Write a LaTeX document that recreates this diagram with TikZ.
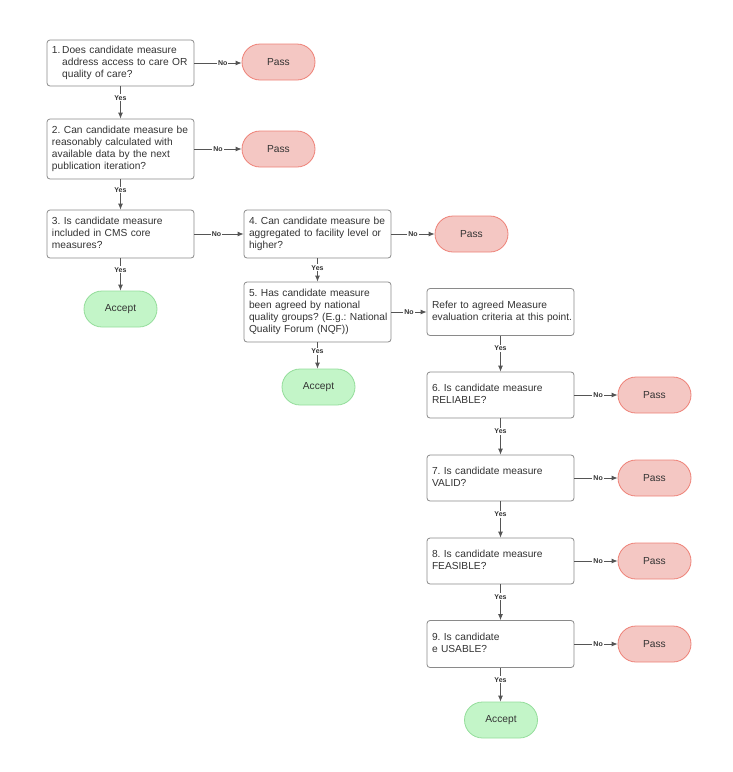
\documentclass[tikz,border=0pt]{standalone}
\usepackage{fontspec}
\setmainfont{Liberation Sans}
\usetikzlibrary{arrows.meta}
\frenchspacing
\definecolor{boxline}{HTML}{8A8A8A}
\definecolor{txt}{HTML}{333333}
\definecolor{passfill}{HTML}{F4C7C3}
\definecolor{passline}{HTML}{EE8177}
\definecolor{accfill}{HTML}{C3F5C8}
\definecolor{accline}{HTML}{94DD9B}
\definecolor{arr}{HTML}{555555}
\newcommand{\ql}[1]{\begin{tabular}{@{}l@{}}#1\end{tabular}}
\begin{document}
\begin{tikzpicture}[x=1pt,y=-1pt,
  qbox/.style={draw=boxline, line width=0.8pt, rounded corners=3pt, fill=white,
    minimum width=147pt, text width=137pt, inner sep=5pt, align=left,
    font=\fontsize{10.2}{12}\selectfont, text=txt},
  passbox/.style={draw=passline, line width=0.8pt, fill=passfill, rounded corners=18pt,
    minimum width=73pt, minimum height=36pt, font=\fontsize{10.2}{12}\selectfont, text=txt},
  accbox/.style={draw=accline, line width=0.8pt, fill=accfill, rounded corners=18pt,
    minimum width=73pt, minimum height=36pt, font=\fontsize{10.2}{12}\selectfont, text=txt},
  conn/.style={draw=arr, line width=0.8pt, -{Latex[length=6pt,width=5pt]}},
  lbl/.style={fill=white, inner sep=1pt, font=\bfseries\fontsize{7}{8}\selectfont, text=txt}
]
\useasboundingbox (0,0) rectangle (732,772);

\node[qbox, minimum height=46pt] (b1) at (120.5,63) {\begin{tabular}{@{}l@{\,}l@{}}1. & Does candidate measure\\ & address access to care OR\\ & quality of care?\end{tabular}};
\node[passbox] (p1) at (278.5,62) {Pass};

\node[qbox, minimum height=60pt] (b2) at (120.5,149) {\ql{2. Can candidate measure be\\reasonably calculated with\\available data by the next\\publication iteration?}};
\node[passbox] (p2) at (278.5,149) {Pass};

\node[qbox, minimum height=48pt] (b3) at (120.5,234) {\ql{3. Is candidate measure\\included in CMS core\\measures?}};
\node[accbox] (a3) at (120.5,309) {Accept};

\node[qbox, minimum height=48pt] (b4) at (317.5,234) {\ql{4. Can candidate measure be\\aggregated to facility level or\\higher?}};
\node[passbox] (p4) at (471.5,234) {Pass};

\node[qbox, minimum height=60pt] (b5) at (317.5,312) {\ql{5. Has candidate measure\\been agreed by national\\quality groups? (E.g.: National\\Quality Forum (NQF))}};
\node[accbox] (a5) at (318.5,387) {Accept};

\node[qbox, minimum height=47pt] (r) at (500.5,312) {\ql{Refer to agreed Measure\\evaluation criteria at this point.}};

\node[qbox, minimum height=46pt] (b6) at (500.5,395) {\ql{6. Is candidate measure\\RELIABLE?}};
\node[passbox] (p6) at (654.5,395) {Pass};

\node[qbox, minimum height=46pt] (b7) at (500.5,478) {\ql{7. Is candidate measure\\VALID?}};
\node[passbox] (p7) at (654.5,478) {Pass};

\node[qbox, minimum height=46pt] (b8) at (500.5,561) {\ql{8. Is candidate measure\\FEASIBLE?}};
\node[passbox] (p8) at (654.5,561) {Pass};

\node[qbox, minimum height=47pt] (b9) at (500.5,644) {\ql{9. Is candidate\\e USABLE?}};
\node[passbox] (p9) at (654.5,644) {Pass};
\node[accbox] (a9) at (501,720) {Accept};

% No connectors
\draw[conn] (b1.east) -- node[lbl, pos=0.6] {No} (p1.west |- b1.east);
\draw[conn] (b2.east) -- node[lbl, pos=0.5] {No} (p2.west);
\draw[conn] (b3.east) -- node[lbl, pos=0.45] {No} (b4.west);
\draw[conn] (b4.east) -- node[lbl, pos=0.5] {No} (p4.west);
\draw[conn] (b5.east) -- node[lbl, pos=0.5] {No} (r.west);
\draw[conn] (b6.east) -- node[lbl, pos=0.55] {No} (p6.west);
\draw[conn] (b7.east) -- node[lbl, pos=0.55] {No} (p7.west);
\draw[conn] (b8.east) -- node[lbl, pos=0.55] {No} (p8.west);
\draw[conn] (b9.east) -- node[lbl, pos=0.55] {No} (p9.west);

% Yes connectors
\draw[conn] (b1.south) -- node[lbl, pos=0.35] {Yes} (b2.north);
\draw[conn] (b2.south) -- node[lbl, pos=0.35] {Yes} (b3.north);
\draw[conn] (b3.south) -- node[lbl, pos=0.35] {Yes} (a3.north);
\draw[conn] (b4.south) -- node[lbl, pos=0.4] {Yes} (b5.north);
\draw[conn] (b5.south) -- node[lbl, pos=0.35] {Yes} (a5.north -| b5.south);
\draw[conn] (r.south) -- node[lbl, pos=0.35] {Yes} (b6.north);
\draw[conn] (b6.south) -- node[lbl, pos=0.35] {Yes} (b7.north);
\draw[conn] (b7.south) -- node[lbl, pos=0.35] {Yes} (b8.north);
\draw[conn] (b8.south) -- node[lbl, pos=0.35] {Yes} (b9.north);
\draw[conn] (b9.south) -- node[lbl, pos=0.35] {Yes} (a9.north -| b9.south);
\end{tikzpicture}
\end{document}
